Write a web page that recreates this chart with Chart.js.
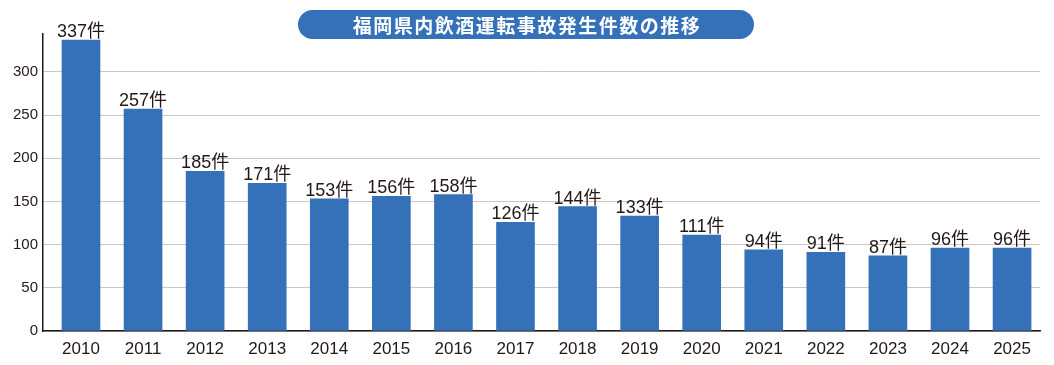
<!DOCTYPE html>
<html>
<head>
<meta charset="utf-8">
<script src="https://cdn.jsdelivr.net/npm/chart.js@4/dist/chart.umd.min.js"></script>
<style>
  html, body { margin: 0; padding: 0; background: #fff; }
  #wrap { width: 1054px; height: 365px; }
</style>
</head>
<body>
<div id="wrap"><canvas id="chart"></canvas></div>
<script>
const title = "福岡県内飲酒運転事故発生件数の推移";
const years = ["2010","2011","2012","2013","2014","2015","2016","2017","2018","2019","2020","2021","2022","2023","2024","2025"];
const counts = [337, 257, 185, 171, 153, 156, 158, 126, 144, 133, 111, 94, 91, 87, 96, 96];
const yTicks = [0, 50, 100, 150, 200, 250, 300];

const FONT = '"Liberation Sans", Arial, "Noto Sans CJK JP", sans-serif';
const barColor = "#3471b8";
const textColor = "#231815";

const titlePill = {
  id: "titlePill",
  afterDraw(chart) {
    const ctx = chart.ctx;
    const x = 298, y = 10, w = 456, h = 29, r = h / 2;
    ctx.save();
    ctx.fillStyle = barColor;
    ctx.beginPath();
    ctx.roundRect(x, y, w, h, r);
    ctx.fill();
    ctx.fillStyle = "#fff";
    ctx.font = 'bold 19px "Noto Sans CJK JP", sans-serif';
    ctx.letterSpacing = "1.5px";
    ctx.textAlign = "center";
    ctx.textBaseline = "middle";
    ctx.fillText(title, x + w / 2 + 1, y + h / 2 + 1);
    ctx.restore();
  }
};

const barLabels = {
  id: "barLabels",
  afterDatasetsDraw(chart) {
    const ctx = chart.ctx;
    const meta = chart.getDatasetMeta(0);
    ctx.save();
    ctx.fillStyle = textColor;
    ctx.font = "18px " + FONT;
    ctx.textAlign = "center";
    ctx.textBaseline = "alphabetic";
    meta.data.forEach((bar, i) => {
      ctx.fillText(counts[i] + "件", bar.x, bar.y - 3);
    });
    ctx.restore();
  }
};

new Chart(document.getElementById("chart"), {
  type: "bar",
  data: {
    datasets: [{
      data: counts.map((v, i) => ({ x: i, y: v })),
      backgroundColor: barColor,
      barThickness: 38,
      borderWidth: 0
    }]
  },
  options: {
    responsive: true,
    maintainAspectRatio: false,
    animation: false,
    layout: { padding: { top: 34, right: 14, left: 0, bottom: 0 } },
    plugins: { legend: { display: false }, tooltip: { enabled: false } },
    scales: {
      x: {
        type: "linear",
        offset: false,
        min: -0.612,
        max: 15.45,
        afterBuildTicks(scale) { scale.ticks = years.map((_, i) => ({ value: i })); },
        afterFit(scale) { scale.height = 34; },
        grid: { display: false, offset: false },
        border: { display: true, color: "#231815", width: 1.5 },
        ticks: {
          color: textColor,
          font: { family: FONT, size: 17 },
          padding: 0,
          maxRotation: 0,
          autoSkip: false,
          callback: (v) => years[v]
        }
      },
      y: {
        min: 0,
        max: 344,
        afterBuildTicks(scale) { scale.ticks = yTicks.map(v => ({ value: v })); },
        afterFit(scale) { scale.width = 43; },
        grid: { color: "#c8c8c8", drawTicks: false },
        border: { display: true, color: "#231815", width: 1.5 },
        ticks: {
          color: textColor,
          font: { family: FONT, size: 15 },
          padding: 5
        }
      }
    }
  },
  plugins: [barLabels, titlePill]
});
</script>
</body>
</html>
